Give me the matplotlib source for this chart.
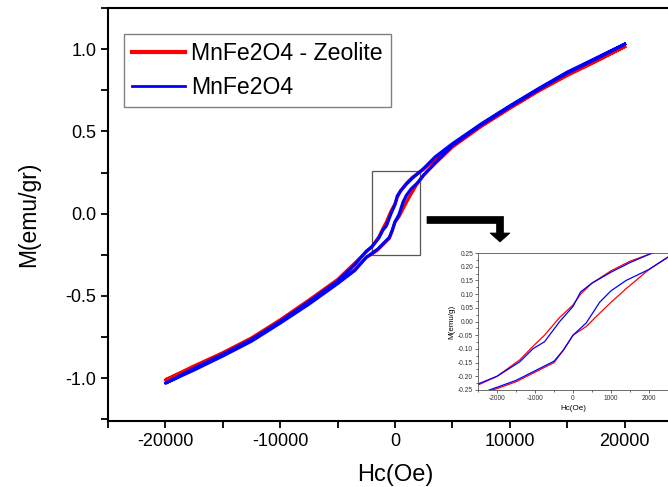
import matplotlib
matplotlib.use("Agg")
import matplotlib.pyplot as plt
from matplotlib.patches import Rectangle, Polygon
from matplotlib.ticker import MultipleLocator

plt.rcParams['font.family'] = ['Liberation Sans', 'DejaVu Sans']
plt.rcParams['axes.unicode_minus'] = False

# descending-field branch (upper) and ascending-field branch (lower)
h_up = [20000, 17500, 15000, 12500, 10000, 7500, 5000, 3500, 2500, 2000, 1500, 1000, 500, 200, 0,
        -350, -750, -1050, -1400, -2000, -2500, -3500, -5000, -7500, -10000, -12500, -15000, -17500, -20000]
h_dn = [-20000, -17500, -15000, -12500, -10000, -7500, -5000, -3500, -2500, -2000, -1500, -1000, -500, -250, 0,
        350, 700, 1000, 1400, 2000, 2500, 3500, 5000, 7500, 10000, 12500, 15000, 17500, 20000]

m_zeo_up = [1.015, 0.93, 0.845, 0.75, 0.645, 0.535, 0.415, 0.335, 0.27, 0.245, 0.22, 0.185, 0.14, 0.1, 0.06,
            0.015, -0.05, -0.09, -0.14, -0.2, -0.232, -0.3, -0.4, -0.525, -0.645, -0.755, -0.845, -0.925, -1.01]
m_zeo_dn = [-1.01, -0.935, -0.85, -0.76, -0.655, -0.54, -0.415, -0.34, -0.265, -0.245, -0.22, -0.185, -0.15, -0.104, -0.05,
            -0.018, 0.03, 0.07, 0.12, 0.19, 0.235, 0.305, 0.405, 0.53, 0.64, 0.745, 0.84, 0.925, 1.015]

m_mnfe_up = [1.03, 0.945, 0.86, 0.76, 0.655, 0.545, 0.425, 0.345, 0.275, 0.245, 0.215, 0.18, 0.14, 0.108, 0.055,
             0.0, -0.074, -0.099, -0.147, -0.2, -0.228, -0.31, -0.41, -0.535, -0.655, -0.765, -0.855, -0.94, -1.03]
m_mnfe_dn = [-1.03, -0.95, -0.865, -0.775, -0.665, -0.55, -0.425, -0.345, -0.265, -0.24, -0.215, -0.18, -0.145, -0.104, -0.05,
             -0.005, 0.07, 0.112, 0.15, 0.19, 0.235, 0.31, 0.415, 0.54, 0.65, 0.755, 0.855, 0.94, 1.03]

labels = ["MnFe2O4 - Zeolite", "MnFe2O4"]
colors = ["#ff0000", "#0000ff"]

W, H = 668, 487
fig = plt.figure(figsize=(W / 100, H / 100), dpi=100)

def fx(px):
    return px / W

def fy(py):
    return 1 - py / H

ax = fig.add_axes([fx(108), fy(421), fx(682) - fx(108), fy(8) - fy(421)])
h_all = h_up + h_dn
series = [m_zeo_up + m_zeo_dn, m_mnfe_up + m_mnfe_dn]
for m, c, lab in zip(series, colors, labels):
    ax.plot(h_all, m, color=c, lw=2.3, label=lab)

ax.set_xlim(-25000, 25000)
ax.set_ylim(-1.26, 1.25)
ax.xaxis.set_major_locator(MultipleLocator(10000))
ax.xaxis.set_minor_locator(MultipleLocator(5000))
ax.yaxis.set_major_locator(MultipleLocator(0.5))
ax.yaxis.set_minor_locator(MultipleLocator(0.25))
ax.yaxis.set_major_formatter(plt.FuncFormatter(lambda v, _: f'{v:.1f}'))
ax.tick_params(which='both', direction='out', labelsize=13, width=1.3)
ax.tick_params(which='major', length=5)
ax.tick_params(which='minor', length=5)
for s in ax.spines.values():
    s.set_linewidth(1.5)
ax.set_xlabel("Hc(Oe)", fontsize=17, labelpad=10)
ax.set_ylabel("M(emu/gr)", fontsize=16.5, labelpad=18)

leg = ax.legend(loc='upper left', bbox_to_anchor=(fx(124), fy(34)), bbox_transform=fig.transFigure,
                borderaxespad=0, fontsize=16.6, handlelength=2.3, handletextpad=0.25,
                labelspacing=0.48, borderpad=0.35, fancybox=False, framealpha=1)
leg.get_frame().set_edgecolor('#808080')
leg.get_frame().set_linewidth(1.0)
leg.get_lines()[0].set_linewidth(3)
leg.get_lines()[1].set_linewidth(2)

# zoom box on main axes
ax.add_patch(Rectangle((-2000, -0.25), 4200, 0.51, fill=False, edgecolor='#555555', lw=0.9))

# arrow to inset
arrow_px = [(427, 216.5), (503.5, 216.5), (503.5, 233), (510, 233), (500, 242), (490, 233),
            (496.5, 233), (496.5, 223.5), (427, 223.5)]
fig.patches.append(Polygon([(fx(x), fy(y)) for x, y in arrow_px], closed=True,
                           transform=fig.transFigure, facecolor='black', edgecolor='black', lw=0.5))

# inset
ins = fig.add_axes([fx(478), fy(390), fx(668) - fx(478), fy(253) - fy(390)])
for m, c in zip(series, colors):
    ins.plot(h_all, m, color=c, lw=0.9)
ins.set_xlim(-2500, 2500)
ins.set_ylim(-0.25, 0.25)
ins.xaxis.set_major_locator(MultipleLocator(1000))
ins.xaxis.set_minor_locator(MultipleLocator(500))
ins.yaxis.set_major_locator(MultipleLocator(0.05))
ins.yaxis.set_minor_locator(MultipleLocator(0.025))
ins.yaxis.set_major_formatter(plt.FuncFormatter(lambda v, _: f'{v:.2f}'))
ins.tick_params(which='both', direction='out', labelsize=4.8, width=0.5, pad=1.5, colors='#333333')
ins.tick_params(which='major', length=2)
ins.tick_params(which='minor', length=1.2)
for s in ins.spines.values():
    s.set_linewidth(0.6)
    s.set_color('#555555')
ins.set_xlabel("Hc(Oe)", fontsize=5.8, labelpad=2)
ins.set_ylabel("M(emu/g)", fontsize=5.8, labelpad=2)

fig.savefig("out.png", dpi=100)
